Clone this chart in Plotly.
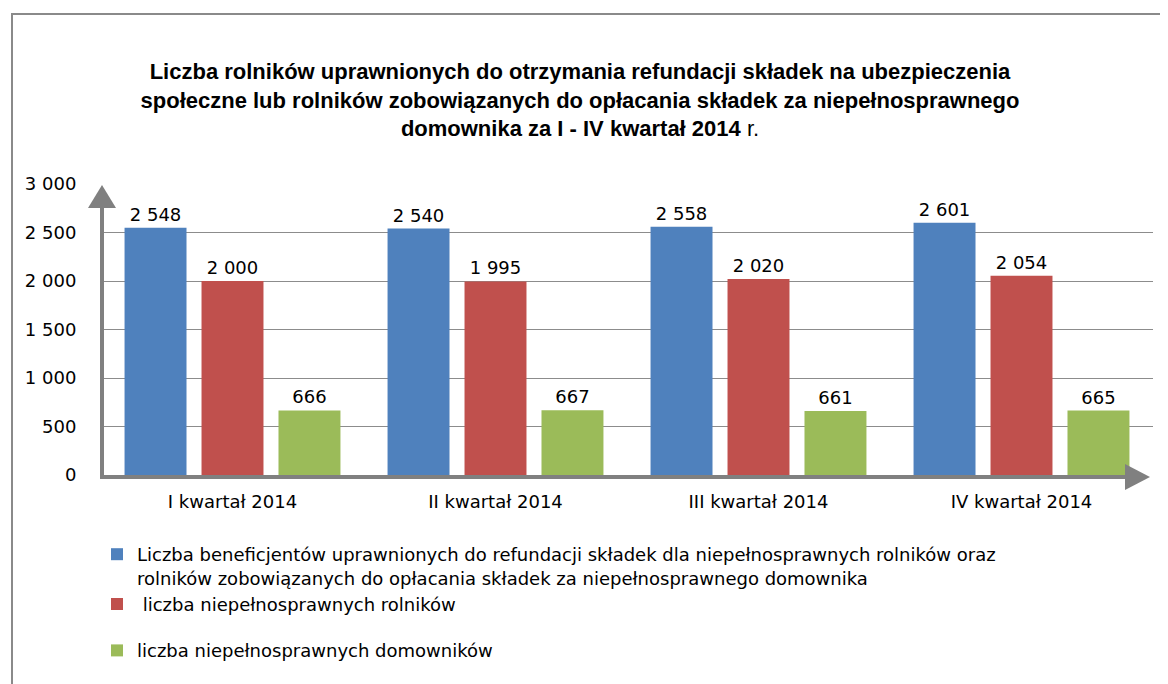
import plotly.graph_objects as go

categories = ["I kwartał 2014", "II kwartał 2014", "III kwartał 2014", "IV kwartał 2014"]
beneficjenci = [2548, 2540, 2558, 2601]
rolnicy = [2000, 1995, 2020, 2054]
domownicy = [666, 667, 661, 665]
series_names = [
    "Liczba beneficjentów uprawnionych do refundacji składek dla niepełnosprawnych rolników oraz<br>rolników zobowiązanych do opłacania składek za niepełnosprawnego domownika",
    "\u00a0liczba niepełnosprawnych rolników",
    "liczba niepełnosprawnych domowników",
]
legend_groups = ["g1", "g1", "g2"]
colors = ["#4F81BD", "#C0504D", "#9BBB59"]
y_ticks = [0, 500, 1000, 1500, 2000, 2500, 3000]

OFF = 8  # page body margin
W, H = 1168, 684
# plot area in page coordinates
PL, PR, PT, PB = 101, 1153, 184, 475
L, R, T, B = PL - OFF, PR - OFF, PT - OFF, PB - OFF


def px(x):
    return (x - PL) / (PR - PL)


def py(y):
    return (PB - y) / (PB - PT)


def fmt(v):
    return f"{v:,}".replace(",", " ")


fig = go.Figure()
for name, vals, col, grp in zip(series_names, [beneficjenci, rolnicy, domownicy], colors, legend_groups):
    fig.add_trace(go.Bar(
        x=categories, y=vals, name=name, legendgroup=grp,
        marker=dict(color=col, line=dict(width=0)),
        text=[fmt(v) for v in vals], textposition="outside", cliponaxis=False,
        textfont=dict(family="DejaVu Sans", size=18, color="#000000"),
    ))

grey = "#808080"
shapes = [
    dict(type="rect", xref="paper", yref="paper", x0=px(12), x1=px(1220), y0=py(14), y1=py(740),
         line=dict(color="#8a8a8a", width=2), fillcolor="rgba(0,0,0,0)", layer="below"),
    dict(type="line", xref="paper", yref="paper", x0=px(102), x1=px(102), y0=py(479), y1=py(203),
         line=dict(color=grey, width=4), layer="above"),
    dict(type="path", xref="paper", yref="paper",
         path=f"M {px(102)},{py(185)} L {px(88)},{py(208)} L {px(116)},{py(208)} Z",
         fillcolor=grey, line=dict(width=0), layer="above"),
    dict(type="line", xref="paper", yref="paper", x0=px(100), x1=px(1130), y0=py(477), y1=py(477),
         line=dict(color=grey, width=4), layer="above"),
    dict(type="path", xref="paper", yref="paper",
         path=f"M {px(1150)},{py(477)} L {px(1125)},{py(464)} L {px(1125)},{py(490)} Z",
         fillcolor=grey, line=dict(width=0), layer="above"),
]

fig.update_layout(
    width=W, height=H,
    margin=dict(l=L, r=W - R, t=T, b=H - B),
    paper_bgcolor="white", plot_bgcolor="white",
    separators=", ",
    barmode="group", bargap=0.122, bargroupgap=0.195,
    title=dict(
        text="<b>Liczba rolników uprawnionych do otrzymania refundacji składek na ubezpieczenia<br>"
             "społeczne lub rolników zobowiązanych do opłacania składek za niepełnosprawnego<br>"
             "domownika za I - IV kwartał 2014</b> r.",
        x=(580 - OFF) / W, xref="container", xanchor="center",
        y=1 - (79 - OFF) / H, yanchor="top",
        font=dict(family="Liberation Sans", size=22, color="#000000"),
    ),
    xaxis=dict(
        showline=False, showgrid=False, zeroline=False,
        ticks="outside", ticklen=10, tickcolor="rgba(0,0,0,0)",
        tickfont=dict(family="DejaVu Sans", size=18, color="#000000"),
    ),
    yaxis=dict(
        range=[0, 3000], tickvals=y_ticks, tickformat=",",
        showgrid=True, gridcolor="#8c8c8c", gridwidth=1, zeroline=False, showline=False,
        ticks="outside", ticklen=20, tickcolor="rgba(0,0,0,0)",
        tickfont=dict(family="DejaVu Sans", size=18, color="#000000"),
    ),
    legend=dict(
        x=px(97), xanchor="left", y=py(536), yanchor="top",
        valign="top", traceorder="grouped", tracegroupgap=20,
        font=dict(family="DejaVu Sans", size=18, color="#000000"),
        bgcolor="rgba(0,0,0,0)",
    ),
    shapes=shapes,
)

fig.write_html("out.html")
